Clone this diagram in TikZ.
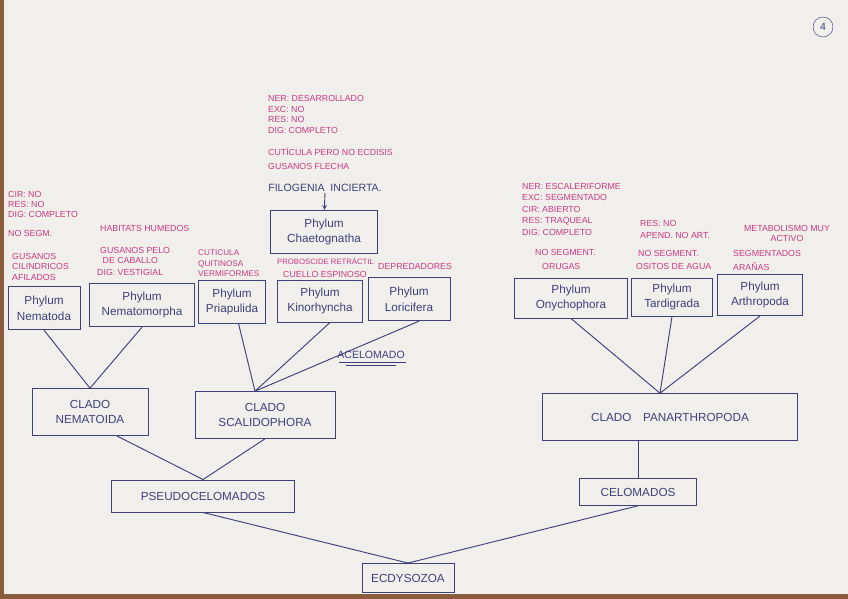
\documentclass[tikz,border=0pt]{standalone}
\usepackage{fontspec}
\setsansfont{Liberation Sans}
\usetikzlibrary{positioning, arrows}
\definecolor{ink}{RGB}{62,64,122}
\definecolor{pinkink}{RGB}{200,58,128}
\definecolor{paper}{RGB}{240,239,235}
\definecolor{wood}{RGB}{140,92,62}
\tikzset{
  >=stealth,
  box/.style={draw=ink, thick, align=center, text=ink, font=\sffamily\fontsize{10}{13.5}\selectfont, inner sep=2pt},
  phylum/.style={box, minimum height=13mm},
  clado/.style={box, minimum height=14mm},
  note/.style={text=pinkink, font=\sffamily\fontsize{7.5}{9}\selectfont, align=left, anchor=north west, inner sep=0pt},
  label/.style={text=ink, font=\sffamily\fontsize{9}{10}\selectfont, inner sep=1pt},
  link/.style={draw=ink, thick},
}

\begin{document}
\begin{tikzpicture}[x=0.3mm, y=-0.3mm]
      \useasboundingbox (0,0) rectangle (848,599);
      \fill[paper] (0,0) rectangle (848,599);
      \fill[wood] (0,0) rectangle (4,599);
      \fill[wood] (0,594) rectangle (848,599);

      % phyla
      \node[phylum,minimum width=32mm]                       (chaeto)  at (324,232) {Phylum\\Chaetognatha};
      \node[phylum,minimum width=21.6mm]                     (nemato)  at (44,308)  {Phylum\\Nematoda};
      \node[phylum,minimum width=31.5mm]                     (nemorph) at (142,305) {Phylum\\Nematomorpha};
      \node[phylum,minimum width=20mm]                       (priap)   at (232,302) {Phylum\\Priapulida};
      \node[phylum,minimum width=25.5mm,minimum height=12.6mm] (kino)  at (320,301) {Phylum\\Kinorhyncha};
      \node[phylum,minimum width=24.6mm]                     (lori)    at (409,299) {Phylum\\Loricifera};
      \node[phylum,minimum width=33.9mm,minimum height=12mm] (onycho)  at (571,298) {Phylum\\Onychophora};
      \node[phylum,minimum width=24.3mm,minimum height=11.4mm] (tardi) at (672,297) {Phylum\\Tardigrada};
      \node[phylum,minimum width=25.5mm,minimum height=12.3mm] (arthro) at (760,295) {Phylum\\Arthropoda};

      % clados
      \node[clado,minimum width=34.8mm] (nematoida) at (90,412)  {CLADO\\NEMATOIDA};
      \node[clado,minimum width=42mm]   (scalido)   at (265,415) {CLADO\\SCALIDOPHORA};
      \node[clado,minimum width=76.5mm] (panar)     at (670,417) {CLADO\quad PANARTHROPODA};
      \node[box,minimum width=55mm,minimum height=9.6mm] (pseudo) at (203,496) {PSEUDOCELOMADOS};
      \node[box,minimum width=35mm,minimum height=8mm]   (celo)   at (638,492) {CELOMADOS};
      \node[box,minimum width=27.6mm,minimum height=8.7mm] (ecdy) at (408,578) {ECDYSOZOA};

      % dark labels
      \node[label] (filo) at (325,188) {FILOGENIA\ \ INCIERTA.};
      \node[label,anchor=west] (acel) at (336,355) {ACELOMADO};
      \draw[ink,thick] ([xshift=1mm,yshift=-0.6mm]acel.south west) -- ([yshift=-0.6mm]acel.south east);
      \draw[ink,thick] ([xshift=3mm,yshift=-1.5mm]acel.south west) -- ([xshift=-3mm,yshift=-1.5mm]acel.south east);
      \node[circle,draw=ink,text=ink,minimum size=6mm,inner sep=0pt,font=\sffamily\small] (page) at (823,27) {4};

      % notes
      \node[note,font=\sffamily\fontsize{7.5}{9.2}\selectfont] (chnote) at (268,95) {NER: DESARROLLADO\\EXC: NO\\RES: NO\\DIG: COMPLETO};
      \node[note] (chcut)  at (268,148) {CUTÍCULA PERO NO ECDISIS};
      \node[note] (chgus)  at (268,163) {GUSANOS FLECHA};
      \node[note,font=\sffamily\fontsize{7.5}{8.4}\selectfont] (nenote) at (8,191) {CIR: NO\\RES: NO\\DIG: COMPLETO};
      \node[note] (neseg)  at (8,230)   {NO SEGM.};
      \node[note] (negus)  at (12,253)  {GUSANOS\\CILINDRICOS\\AFILADOS};
      \node[note] (nmhab)  at (100,225) {HABITATS HUMEDOS};
      \node[note] (nmgus)  at (100,247) {GUSANOS PELO\\\ DE CABALLO};
      \node[note] (nmdig)  at (97,269)  {DIG: VESTIGIAL};
      \node[note,font=\sffamily\fontsize{7}{8.6}\selectfont] (prnote) at (198,250) {CUTICULA\\QUITINOSA\\VERMIFORMES};
      \node[note,font=\sffamily\fontsize{6.6}{8}\selectfont] (kiprob) at (277,258) {PROBOSCIDE RETRÁCTIL};
      \node[note] (kicue)  at (283,271) {CUELLO ESPINOSO};
      \node[note] (lodep)  at (378,263) {DEPREDADORES};
      \node[note,font=\sffamily\fontsize{7.5}{9.8}\selectfont] (panote) at (522,183) {NER: ESCALERIFORME\\EXC: SEGMENTADO\\CIR: ABIERTO\\RES: TRAQUEAL\\DIG: COMPLETO};
      \node[note,font=\sffamily\fontsize{7.5}{10}\selectfont] (tares) at (640,220) {RES: NO\\APEND. NO ART.};
      \node[note,anchor=north,align=center] (armeta) at (787,225) {METABOLISMO MUY\\ACTIVO};
      \node[note] (onseg)  at (535,249) {NO SEGMENT.};
      \node[note] (onoru)  at (542,263) {ORUGAS};
      \node[note] (taseg)  at (638,250) {NO SEGMENT.};
      \node[note] (taosi)  at (636,263) {OSITOS DE AGUA};
      \node[note] (arseg)  at (733,250) {SEGMENTADOS};
      \node[note] (arara)  at (733,263) {ARAÑAS};

      % connectors
      \draw[->,ink,thick] (filo) -- (chaeto);
      \draw[link] (nemato.south) -- (nematoida.north)
                  (nemorph.south) -- (nematoida.north);
      \draw[link] ([xshift=2mm]priap.south) -- ([xshift=-3mm]scalido.north)
                  ([xshift=3mm]kino.south) -- ([xshift=-3mm]scalido.north)
                  ([xshift=3mm]lori.south) -- ([xshift=-3mm]scalido.north);
      \draw[link] (onycho.south) -- ([xshift=-3mm]panar.north)
                  (tardi.south) -- ([xshift=-3mm]panar.north)
                  (arthro.south) -- ([xshift=-3mm]panar.north);
      \draw[link] ([xshift=8mm]nematoida.south) -- (pseudo.north)
                  (scalido.south) -- (pseudo.north);
      \draw[link] (panar.south -| celo.north) -- (celo.north);
      \draw[link] (pseudo.south) -- (ecdy.north)
                  (celo.south) -- (ecdy.north);
    \end{tikzpicture}
\end{document}
